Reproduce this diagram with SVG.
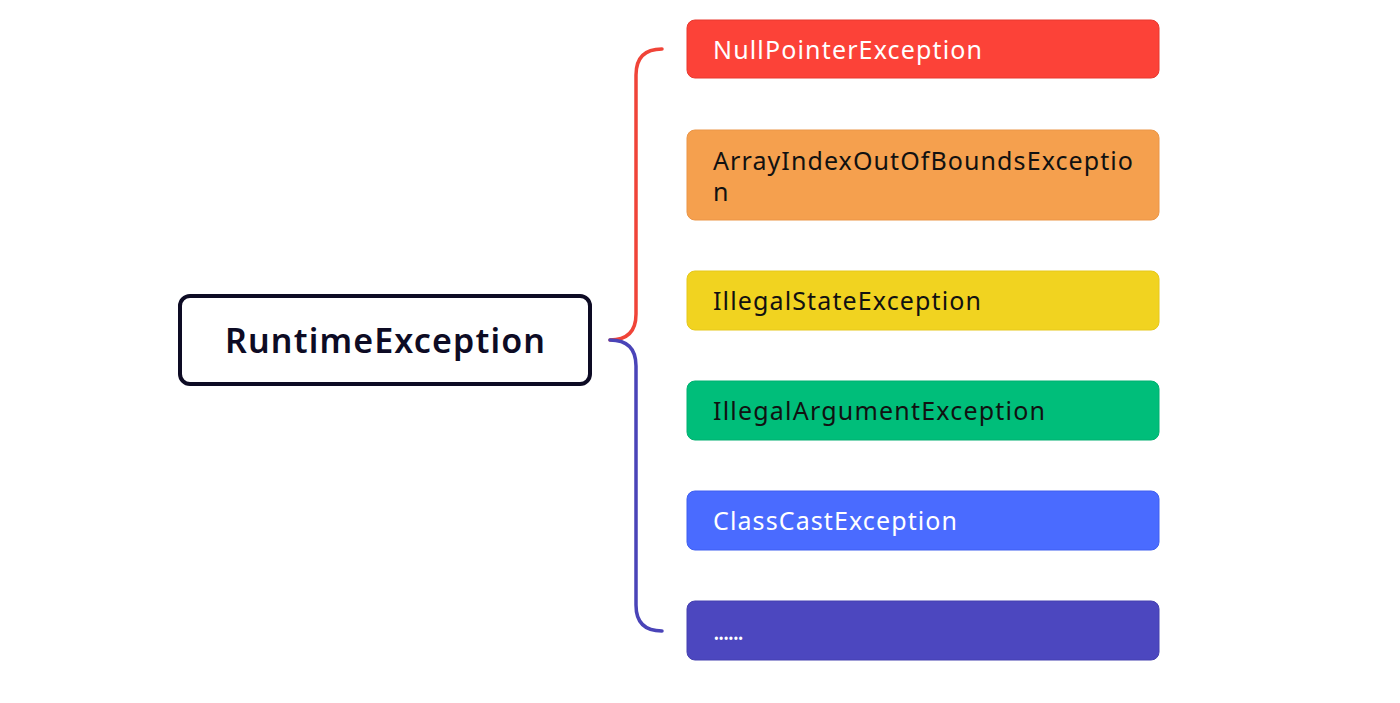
<svg xmlns="http://www.w3.org/2000/svg" width="1400" height="703" viewBox="0 0 1400 703">
<style>
.lbl{font-family:"Noto Sans","Liberation Sans",sans-serif;font-size:25px;}
.w{fill:#ffffff;}
.b{fill:#111111;}
.conn{fill:none;stroke-width:3.5;stroke-linecap:round;}
</style>
<rect width="1400" height="703" fill="#ffffff"/>
<g id="root">
<rect x="180" y="296" width="410" height="88" rx="10" fill="#ffffff" stroke="#0d0b24" stroke-width="4"/>
<text x="385" y="353" text-anchor="middle" font-family="'Noto Sans','Liberation Sans',sans-serif" font-size="34" font-weight="600" fill="#0d0b24" textLength="320">RuntimeException</text>
</g>
<g id="connectors">
<path class="conn" stroke="#f04438" d="M610,340 Q636,340 636,314 L636,75 Q636,49 662,49"/>
<path class="conn" stroke="#4a44b8" d="M610,340 Q636,340 636,366 L636,605 Q636,631 662,631"/>
</g>
<g id="n1">
<rect x="687" y="20" width="472" height="58" rx="8" fill="#fc4238" stroke="#e8392f"/>
<text class="lbl w" x="713" y="59" textLength="269">NullPointerException</text>
</g>
<g id="n2">
<rect x="687" y="130" width="472" height="90" rx="8" fill="#f5a04e" stroke="#eb9546"/>
<text class="lbl b" x="713" y="170" textLength="420">ArrayIndexOutOfBoundsExceptio</text>
<text class="lbl b" x="713" y="201">n</text>
</g>
<g id="n3">
<rect x="687" y="271" width="472" height="59" rx="8" fill="#f1d320" stroke="#e6c81a"/>
<text class="lbl b" x="713" y="310" textLength="268">IllegalStateException</text>
</g>
<g id="n4">
<rect x="687" y="381" width="472" height="59" rx="8" fill="#00be7a" stroke="#00b070"/>
<text class="lbl b" x="713" y="420" textLength="332">IllegalArgumentException</text>
</g>
<g id="n5">
<rect x="687" y="491" width="472" height="59" rx="8" fill="#4a6bff" stroke="#3f5ff0"/>
<text class="lbl w" x="713" y="530" textLength="244">ClassCastException</text>
</g>
<g id="n6">
<rect x="687" y="601" width="472" height="59" rx="8" fill="#4c47bf" stroke="#4540b0"/>
<text class="lbl w" x="713" y="640" textLength="31">......</text>
</g>
</svg>
